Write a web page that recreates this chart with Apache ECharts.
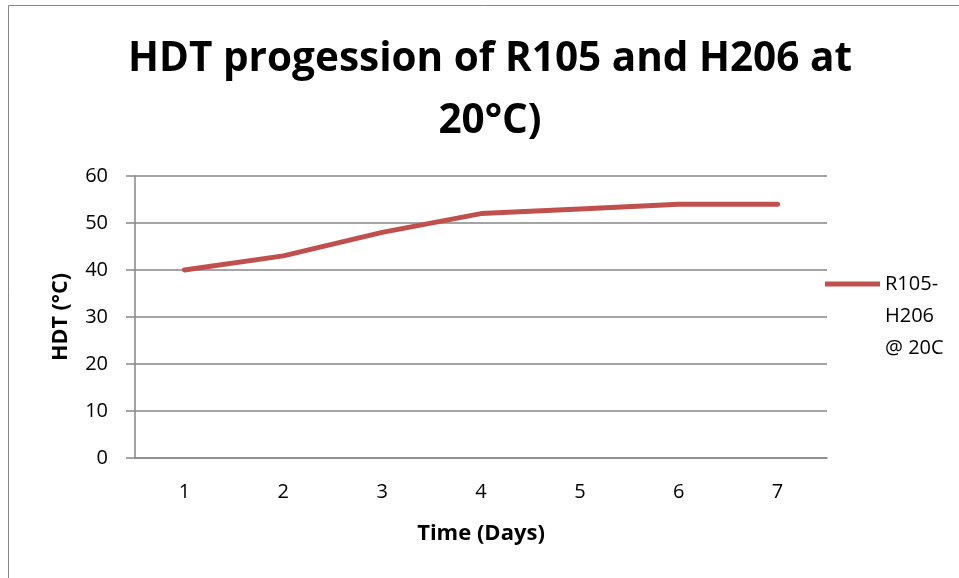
<!DOCTYPE html>
<html><head><meta charset="utf-8">
<script src="https://cdn.jsdelivr.net/npm/echarts@6/dist/echarts.min.js"></script>
<style>html,body{margin:0;padding:0;background:#fff}#c{width:959px;height:578px}</style>
</head><body><div id="c"></div>
<script>
const categories = ['1','2','3','4','5','6','7'];
const seriesName = 'R105-H206 @ 20C';
const legendLines = ['R105-', 'H206', '@ 20C'];
const hdtValues = [40, 43, 48, 52, 53, 54, 54];
const yTicks = {min: 0, max: 60, interval: 10};

const chart = echarts.init(document.getElementById('c'));
const font = '"Open Sans", sans-serif';
chart.setOption({
  animation: false,
  backgroundColor: '#fff',
  graphic: [{type: 'rect', shape: {x: 8.5, y: 5.5, width: 1000, height: 1000}, style: {fill: 'none', stroke: '#868686', lineWidth: 1}, silent: true}],
  title: {
    text: 'HDT progession of R105 and H206 at\n20°C)',
    left: 485, top: 23, textAlign: 'center',
    textStyle: {fontFamily: font, fontWeight: 'bold', fontSize: 40.5, lineHeight: 62, color: '#000'}
  },
  legend: {
    left: 820, top: 199, orient: 'vertical',
    itemWidth: 55, itemHeight: 5, itemGap: 0, icon: 'rect',
    formatter: () => ' \n \n' + legendLines.join('\n'),
    textStyle: {fontFamily: font, fontSize: 20, lineHeight: 32, color: '#000'},
    data: [seriesName]
  },
  grid: {left: 135, right: 132, top: 176, bottom: 120},
  xAxis: {
    type: 'category', data: categories, boundaryGap: true,
    name: 'Time (Days)', nameLocation: 'middle', nameGap: 65,
    nameTextStyle: {fontFamily: font, fontWeight: 'bold', fontSize: 22, color: '#000'},
    axisLine: {lineStyle: {color: '#868686', width: 1.5}},
    axisTick: {show: false},
    axisLabel: {fontFamily: font, fontSize: 20, color: '#000', margin: 24}
  },
  yAxis: {
    type: 'value', min: yTicks.min, max: yTicks.max, interval: yTicks.interval,
    name: 'HDT (°C)', nameLocation: 'middle', nameGap: 63,
    nameTextStyle: {fontFamily: font, fontWeight: 'bold', fontSize: 21.5, color: '#000'},
    axisLine: {show: true, lineStyle: {color: '#868686', width: 1.5}},
    axisTick: {show: true, length: 9, lineStyle: {color: '#868686', width: 1.5}},
    axisLabel: {fontFamily: font, fontSize: 20, color: '#000', margin: 27},
    splitLine: {lineStyle: {color: '#868686', width: 1.5}}
  },
  series: [{
    name: seriesName, type: 'line', data: hdtValues,
    symbol: 'none', smooth: false,
    lineStyle: {color: '#C0504D', width: 5, cap: 'round', join: 'round'},
    itemStyle: {color: '#C0504D'}
  }]
});
</script></body></html>
